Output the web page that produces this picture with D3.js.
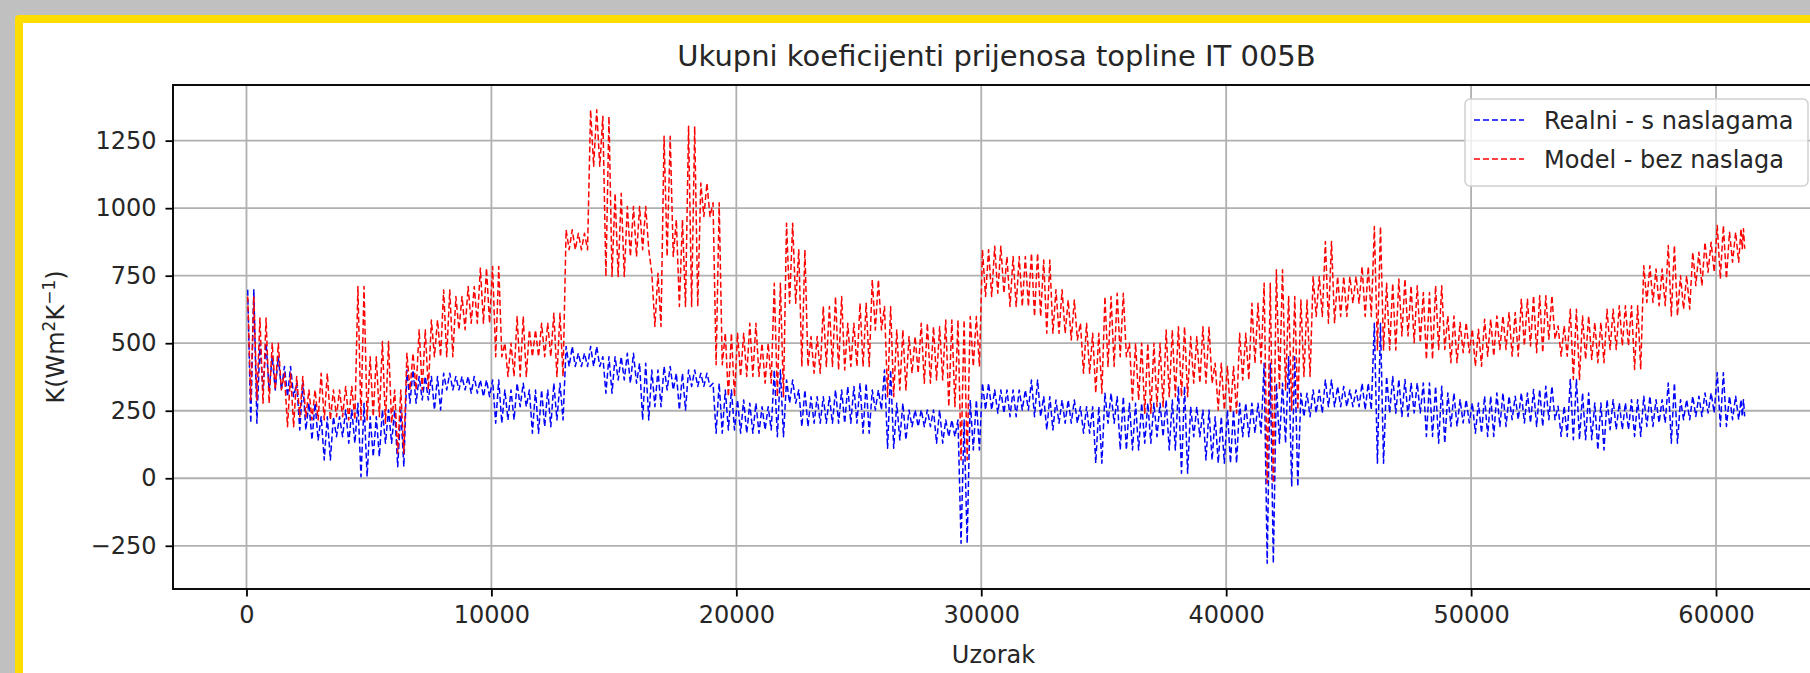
<!DOCTYPE html>
<html>
  <head>
    <meta charset="utf-8">
    <title>Ukupni koeficijenti prijenosa topline IT 005B</title>
    <script src="https://cdn.jsdelivr.net/npm/d3@7"></script>
    <style>
      body { margin: 0; background: #c0c0c0; }
      svg { display: block; font-family: "DejaVu Sans", sans-serif; }
    </style>
  </head>

  <body>
    <svg id="chart" width="1810" height="673"></svg>

    <script>
      // data: per 500-sample bin, the top and bottom of each trace
      binSize = 500;
      realniHi = [698, 500, 450, 414, 352, 278, 228, 228, 253, 278, 228, 253, 253, 401, 377, 377, 389, 377, 377, 364,
        364, 327, 352, 327, 327, 352, 488, 463, 488, 450, 450, 463, 426, 401, 414, 389, 401, 389, 352, 327,
        290, 278, 265, 401, 364, 327, 302, 302, 327, 340, 352, 327, 401, 278, 253, 253, 253, 216, 216, 290,
        352, 327, 327, 327, 364, 302, 290, 290, 265, 265, 315, 302, 278, 278, 278, 290, 340, 265, 253, 228,
        253, 278, 278, 426, 352, 450, 315, 327, 364, 340, 327, 352, 574, 377, 366, 353, 353, 341, 316, 291,
        279, 304, 316, 304, 316, 329, 341, 267, 366, 316, 279, 291, 279, 291, 304, 291, 353, 291, 304, 316,
        391, 304, 291];
      realniLo = [204, 327, 327, 302, 179, 142, 68, 154, 130, 6, 80, 130, 43, 278, 290, 253, 327, 327, 315, 302,
        204, 216, 265, 167, 191, 216, 414, 414, 414, 315, 364, 352, 216, 265, 327, 253, 340, 340, 167, 179,
        167, 167, 179, 154, 278, 191, 204, 204, 204, 204, 167, 253, 111, 142, 191, 191, 130, 154, -241, 105,
        253, 241, 228, 253, 228, 179, 204, 204, 167, 56, 204, 105, 105, 130, 154, 105, 19, 154, 68, 56,
        56, 154, 167, -315, 130, -31, 228, 241, 265, 265, 265, 253, 56, 241, 229, 242, 155, 130, 192, 205,
        167, 155, 192, 217, 205, 192, 217, 155, 143, 143, 105, 180, 180, 155, 192, 205, 130, 217, 229, 242,
        192, 217, 229];
      modelHi = [673, 593, 500, 389, 377, 327, 389, 327, 340, 710, 450, 506, 327, 463, 550, 586, 697, 673, 710, 778,
        784, 500, 599, 549, 574, 611, 920, 907, 1364, 1340, 1055, 1006, 1006, 759, 1266, 957, 1303, 1093, 1020, 537,
        537, 574, 500, 722, 944, 846, 525, 636, 673, 574, 648, 735, 636, 549, 525, 574, 561, 586, 586, 599,
        846, 859, 821, 821, 833, 808, 698, 660, 574, 537, 673, 685, 500, 500, 500, 549, 561, 525, 561, 426,
        414, 537, 648, 722, 772, 673, 660, 747, 877, 747, 747, 784, 932, 722, 738, 713, 688, 713, 601, 577,
        552, 589, 601, 614, 663, 676, 676, 564, 626, 601, 577, 626, 639, 639, 787, 775, 862, 750, 837, 874,
        936, 911, 924];
      modelLo = [290, 278, 327, 191, 228, 216, 216, 228, 216, 216, 228, 204, 93, 327, 327, 450, 450, 550, 574, 574,
        450, 377, 377, 450, 450, 377, 846, 846, 1155, 747, 747, 821, 846, 562, 821, 636, 636, 969, 420, 302,
        377, 377, 352, 302, 648, 414, 389, 414, 401, 414, 414, 549, 302, 327, 389, 352, 364, 265, 68, 414,
        673, 685, 636, 636, 599, 537, 537, 512, 389, 315, 414, 450, 290, 241, 265, 302, 302, 352, 352, 253,
        241, 364, 426, -18, 327, 253, 377, 599, 574, 599, 648, 599, 475, 475, 527, 502, 440, 477, 428, 465,
        415, 452, 477, 452, 490, 465, 515, 452, 366, 440, 428, 477, 490, 403, 651, 639, 601, 626, 713, 763,
        739, 800, 850];
      lastSample = 61200;
      seriesNames = ["Realni - s naslagama", "Model - bez naslaga"];
      seriesColours = ["#0000ff", "#ff0000"];
      xTicks = [0, 10000, 20000, 30000, 40000, 50000, 60000];
      yTicks = [-250, 0, 250, 500, 750, 1000, 1250];

      // page elements
      svg = d3.select("#chart");

      // yellow frame
      svg.append("rect")
        .attr("x", 15).attr("y", 15)
        .attr("width", 1830).attr("height", 700)
        .attr("rx", 4)
        .style("fill", "#ffdd00");
      svg.append("rect")
        .attr("x", 23).attr("y", 23)
        .attr("width", 1820).attr("height", 690)
        .style("fill", "#ffffff");

      // scales
      x = d3.scaleLinear().domain([-3000, 64000]).range([173, 1814]);
      y = d3.scaleLinear().domain([-410, 1456]).range([589, 85]);
      left = x.range()[0]; right = x.range()[1];
      top_ = y.range()[1]; bottom = y.range()[0];

      // grid
      grid = svg.append("g");
      grid.selectAll(".vgrid")
          .data(xTicks)
        .enter().append("line")
          .attr("x1", function(d) { return x(d); })
          .attr("x2", function(d) { return x(d); })
          .attr("y1", top_).attr("y2", bottom);
      grid.selectAll(".hgrid")
          .data(yTicks)
        .enter().append("line")
          .attr("x1", left).attr("x2", right)
          .attr("y1", function(d) { return y(d); })
          .attr("y2", function(d) { return y(d); });
      grid.selectAll("line")
        .style("stroke", "#b0b0b0")
        .style("stroke-width", 1.8);

      // traces: each bin is drawn as a tight zigzag between its top and bottom
      function points(hi, lo) {
        var pts = [];
        hi.forEach(function(h, i) {
          var x0 = i * binSize;
          var w = Math.min(binSize, lastSample - x0);
          pts.push([x0 + w * 0.1, h]);
          pts.push([x0 + w * 0.35, lo[i]]);
          pts.push([x0 + w * 0.6, h]);
          pts.push([x0 + w * 0.85, lo[i]]);
        });
        return pts;
      }
      svg.append("clipPath").attr("id", "plotClip")
        .append("rect")
          .attr("x", left).attr("y", top_)
          .attr("width", right - left).attr("height", bottom - top_);
      line = d3.line()
        .x(function(d) { return x(d[0]); })
        .y(function(d) { return y(d[1]); });
      traces = svg.append("g").attr("clip-path", "url(#plotClip)");
      [[realniHi, realniLo], [modelHi, modelLo]].forEach(function(s, i) {
        traces.append("path")
          .datum(points(s[0], s[1]))
          .attr("d", line)
          .style("fill", "none")
          .style("stroke", seriesColours[i])
          .style("stroke-width", 1.5)
          .style("stroke-dasharray", "6,3")
          .style("stroke-linejoin", "round");
      });

      // axes
      xAxis = d3.axisBottom(x)
        .tickValues(xTicks)
        .tickFormat(d3.format("d"))
        .tickSize(7.5)
        .tickPadding(9);
      yAxis = d3.axisLeft(y)
        .tickValues(yTicks)
        .tickFormat(d3.format("d"))
        .tickSize(7.5)
        .tickPadding(9);
      xg = svg.append("g").attr("transform", "translate(0," + bottom + ")").call(xAxis);
      yg = svg.append("g").attr("transform", "translate(" + left + ",0)").call(yAxis);
      svg.selectAll(".domain").remove();
      svg.selectAll(".tick line").style("stroke", "#000").style("stroke-width", 1.8);
      svg.selectAll(".tick text")
        .style("font-family", "DejaVu Sans")
        .style("font-size", "24px")
        .style("fill", "#262626");
      svg.append("rect")
        .attr("x", left).attr("y", top_)
        .attr("width", right - left).attr("height", bottom - top_)
        .style("fill", "none")
        .style("stroke", "#000")
        .style("stroke-width", 1.9);

      // title and labels
      svg.append("text")
        .attr("x", (left + right) / 2 + 3).attr("y", 66)
        .attr("text-anchor", "middle")
        .style("font-size", "29px")
        .style("fill", "#262626")
        .text("Ukupni koeficijenti prijenosa topline IT 005B");
      svg.append("text")
        .attr("x", (left + right) / 2).attr("y", 663)
        .attr("text-anchor", "middle")
        .style("font-size", "24px")
        .style("fill", "#262626")
        .text("Uzorak");
      ylab = svg.append("text")
        .attr("transform", "translate(64," + ((top_ + bottom) / 2) + ") rotate(-90)")
        .attr("text-anchor", "middle")
        .style("font-size", "24px")
        .style("fill", "#262626");
      ylab.append("tspan").text("K(Wm");
      ylab.append("tspan").attr("dy", -9).style("font-size", "17px").text("2");
      ylab.append("tspan").attr("dy", 9).text("K");
      ylab.append("tspan").attr("dy", -9).style("font-size", "17px").text("\u22121");
      ylab.append("tspan").attr("dy", 9).text(")");

      // legend
      legend = svg.append("g");
      legend.append("rect")
        .attr("x", 1465).attr("y", 99)
        .attr("width", 343).attr("height", 87)
        .attr("rx", 5)
        .style("fill", "#ffffff")
        .style("fill-opacity", 0.8)
        .style("stroke", "#d0d0d0")
        .style("stroke-width", 1.5);
      seriesNames.forEach(function(name, i) {
        var cy = 120 + i * 39;
        legend.append("line")
          .attr("x1", 1474).attr("x2", 1524)
          .attr("y1", cy).attr("y2", cy)
          .style("stroke", seriesColours[i])
          .style("stroke-width", 1.5)
          .style("stroke-dasharray", "6,3");
        legend.append("text")
          .attr("x", 1544).attr("y", cy + 8.5)
          .style("font-size", "24px")
          .style("fill", "#262626")
          .text(name);
      });
    </script>
  </body>
</html>
